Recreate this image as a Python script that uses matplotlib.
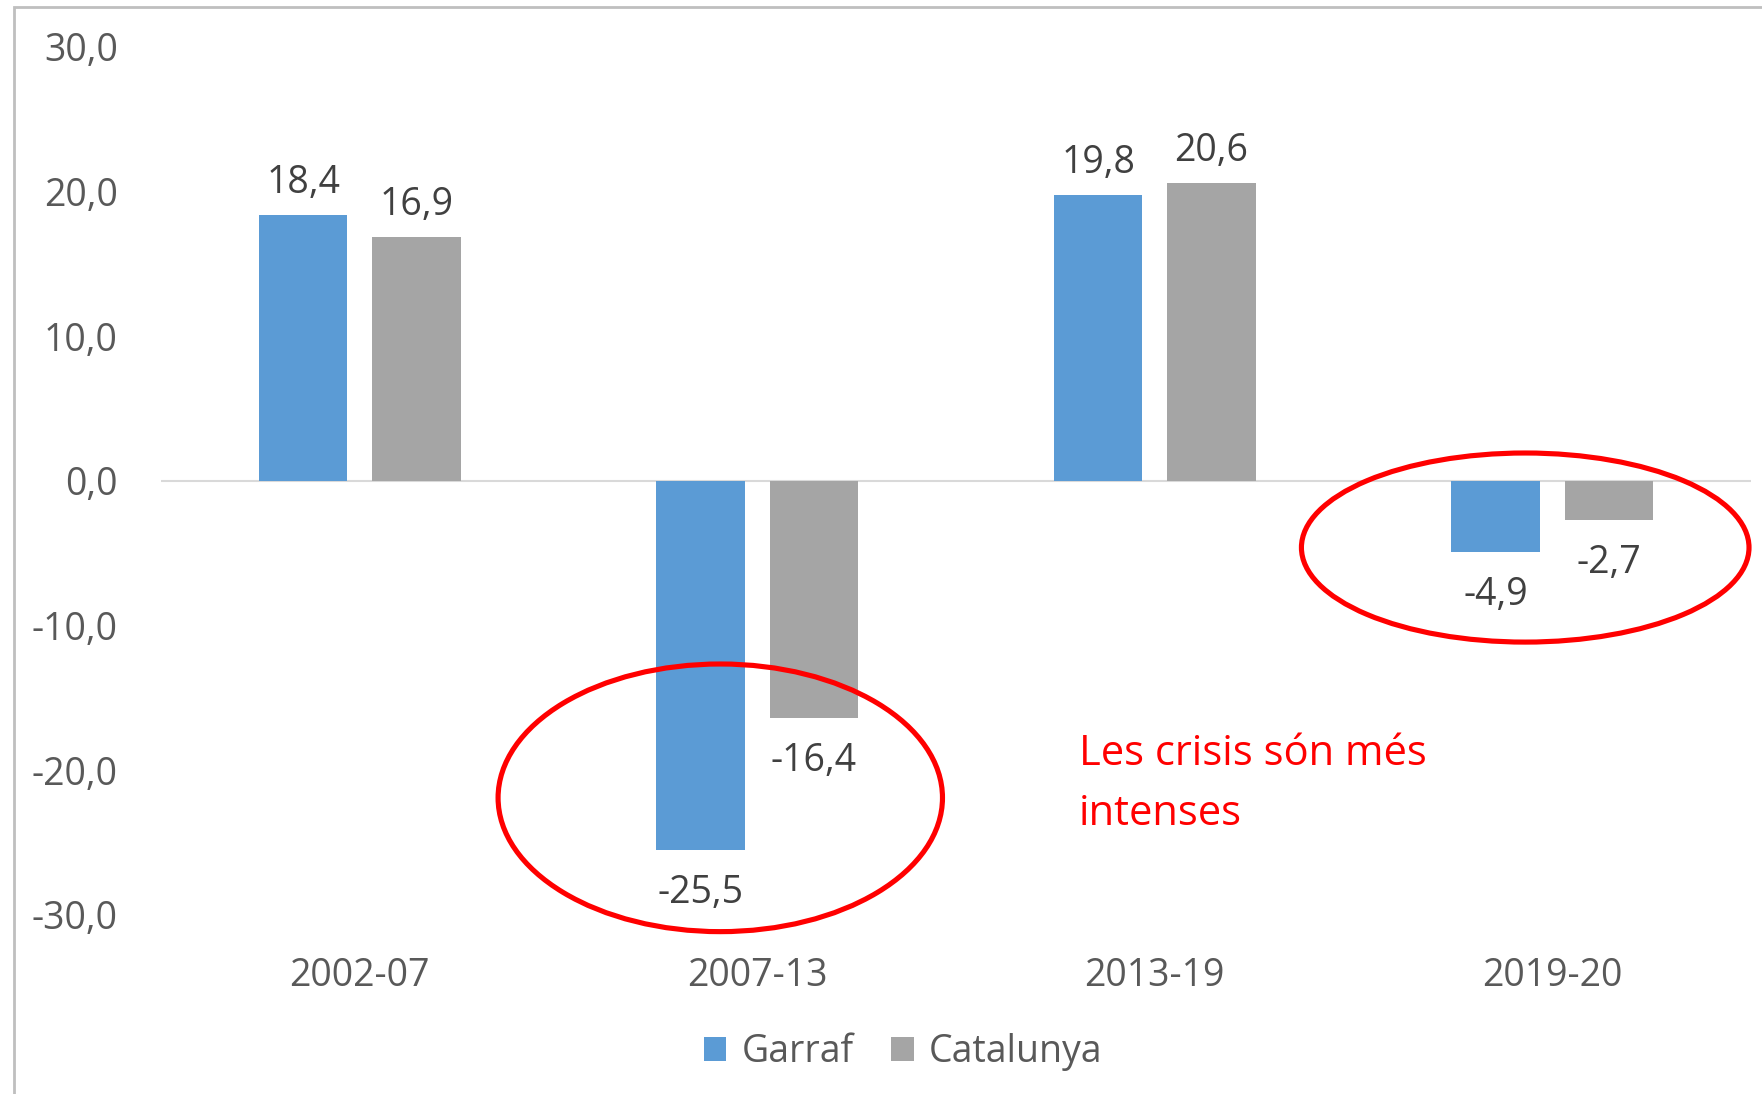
import numpy as np
import matplotlib.pyplot as plt
from matplotlib.patches import Ellipse, Rectangle

plt.rcParams['font.family'] = ['Open Sans', 'DejaVu Sans']

periods = ['2002-07', '2007-13', '2013-19', '2019-20']
garraf = [18.4, -25.5, 19.8, -4.9]
catalunya = [16.9, -16.4, 20.6, -2.7]
yticks = [-30, -20, -10, 0, 10, 20, 30]

blue = '#5B9BD5'
grey = '#A5A5A5'
fs = 27

fig = plt.figure(figsize=(17.62, 10.94), dpi=100)
ax = fig.add_axes([161/1762, 1-915/1094, 1590/1762, 868/1094])

x = np.arange(len(periods))
w = 0.223
off = (w + 0.062) / 2
b1 = ax.bar(x - off, garraf, w, color=blue, label='Garraf')
b2 = ax.bar(x + off, catalunya, w, color=grey, label='Catalunya')

for bars, vals in [(b1, garraf), (b2, catalunya)]:
    for rect, v in zip(bars, vals):
        cx = rect.get_x() + rect.get_width() / 2
        ax.annotate(f'{v:.1f}'.replace('.', ','), (cx, v),
                    xytext=(0, 23 if v > 0 else -31), textcoords='offset points',
                    ha='center', va='center', fontsize=fs, color='#404040')

ax.axhline(0, color='#d9d9d9', lw=1.5, zorder=0)
ax.set_xlim(-0.5, 3.5)
ax.set_ylim(-30, 30)
ax.set_yticks(yticks)
ax.set_yticklabels([f'{t:.1f}'.replace('.', ',') for t in yticks])
ax.set_xticks(x)
ax.set_xticklabels(periods)
ax.tick_params(axis='y', length=0, pad=31, labelsize=fs, labelcolor='#595959')
ax.tick_params(axis='x', length=0, pad=30, labelsize=fs, labelcolor='#595959')
for s in ax.spines.values():
    s.set_visible(False)

# red highlight ellipses
ax.add_patch(Ellipse((0.907, -21.9), 1.118, 18.5, fill=False, ec='#FF0000', lw=3.7, clip_on=False))
ax.add_patch(Ellipse((2.932, -4.6), 1.126, 13.07, fill=False, ec='#FF0000', lw=3.7, clip_on=False))
ax.text(1079/1762, 1-733/1094, 'Les crisis són més\nintenses', transform=fig.transFigure,
        color='#FF0000', fontsize=30, ha='left', va='top', linespacing=1.55)

fig.legend(handles=[b1, b2], loc='center', bbox_to_anchor=(903/1762, 1-1052/1094),
           ncol=2, frameon=False, fontsize=fs, labelcolor='#595959',
           handlelength=0.6, handleheight=0.6, handletextpad=0.4, columnspacing=1.0)

# chart border (cropped on right and bottom)
fig.patches.append(Rectangle((14/1762, -0.05), 1.1, 1.05 - 7/1094, transform=fig.transFigure,
                             fill=False, ec='#bfbfbf', lw=2))

fig.savefig('out.png', dpi=100)
